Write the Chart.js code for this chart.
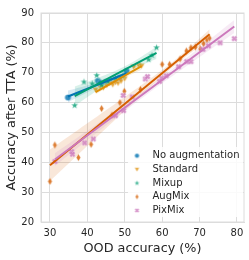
<!DOCTYPE html>
<html>
<head>
<meta charset="utf-8">
<script src="https://cdn.jsdelivr.net/npm/chart.js@4.4.1/dist/chart.umd.min.js"></script>
<style>
  html, body { margin: 0; padding: 0; background: #fff; }
</style>
</head>
<body>
<canvas id="chart" width="249" height="260"></canvas>
<script>
// values, [ood accuracy, accuracy after TTA]
const noAugmentation = [[34.8, 61.7], [42.8, 67.3], [43.6, 66.6], [44.8, 66.9], [46.2, 67.2], [47.5, 67.6], [48.6, 68.3], [50.5, 70.6]];
const standard = [[42.2, 64.3], [43.4, 65.2], [44.3, 65.0], [45.2, 65.8], [46.0, 66.4], [46.8, 66.0], [47.5, 66.8], [48.2, 66.5], [49.0, 67.2], [50.0, 68.0], [52.4, 72.0], [53.7, 72.6], [54.5, 72.3]];
const mixup = [[36.6, 59.0], [39.1, 66.9], [41.3, 66.3], [42.5, 69.1], [43.8, 65.8], [45.5, 67.0], [47.5, 68.2], [49.5, 69.0], [56.4, 74.4], [57.3, 75.8], [58.5, 78.4]];
const augMix = [[30.0, 33.6], [31.3, 45.8], [37.6, 41.6], [41.0, 46.0], [43.8, 58.0], [46.6, 55.8], [48.7, 60.0], [49.9, 63.8], [54.2, 64.4], [60.0, 72.8], [62.0, 72.8], [64.8, 74.6], [66.5, 77.3], [67.7, 78.4], [68.9, 78.6], [70.2, 78.0], [71.1, 79.7], [72.0, 81.0], [72.7, 81.6]];
const pixMix = [[31.3, 40.3], [35.8, 43.6], [36.0, 42.7], [39.3, 46.5], [41.6, 47.8], [47.5, 55.6], [49.7, 57.3], [49.6, 62.4], [52.0, 61.9], [55.5, 67.9], [56.1, 68.7], [59.3, 67.1], [59.9, 68.2], [61.1, 69.0], [64.4, 72.0], [66.6, 73.7], [67.7, 73.7], [70.9, 77.8], [72.4, 79.0], [75.5, 80.0], [79.3, 81.4]];

const seriesNames = ["No augmentation", "Standard", "Mixup", "AugMix", "PixMix"];
const seriesData = [noAugmentation, standard, mixup, augMix, pixMix];
const seriesColors = ["#0173b2", "#de8f05", "#029e73", "#d55e00", "#cc78bc"];
const seriesMarkers = ["circle", "triangleDown", "star", "thinDiamond", "x"];

const xTicks = [30, 40, 50, 60, 70, 80];
const yTicks = [20, 30, 40, 50, 60, 70, 80, 90];

const FONT = "'DejaVu Sans', sans-serif";
const TEXT = "#262626";
const GRID = "#dcdcdc";

function rgba(hex, a) {
  const n = parseInt(hex.slice(1), 16);
  return `rgba(${n >> 16},${(n >> 8) & 255},${n & 255},${a})`;
}

// little canvases used as point styles
function makeMarker(shape, color, r) {
  const size = Math.ceil(r * 2 + 4);
  const c = document.createElement("canvas");
  c.width = size; c.height = size;
  const ctx = c.getContext("2d");
  ctx.translate(size / 2, size / 2);
  ctx.beginPath();
  if (shape === "circle") {
    ctx.arc(0, 0, r, 0, Math.PI * 2);
  } else if (shape === "triangleDown") {
    ctx.moveTo(0, r);
    ctx.lineTo(-r, -r * 0.75);
    ctx.lineTo(r, -r * 0.75);
    ctx.closePath();
  } else if (shape === "star") {
    for (let i = 0; i < 10; i++) {
      const rr = i % 2 ? r * 0.5 : r * 1.2;
      const a = -Math.PI / 2 + i * Math.PI / 5;
      ctx.lineTo(Math.cos(a) * rr, Math.sin(a) * rr);
    }
    ctx.closePath();
  } else if (shape === "thinDiamond") {
    ctx.moveTo(0, -r * 1.2);
    ctx.lineTo(r * 0.7, 0);
    ctx.lineTo(0, r * 1.2);
    ctx.lineTo(-r * 0.7, 0);
    ctx.closePath();
  } else {
    const w = r * 0.4, e = r;
    const pts = [[-w, -e], [w, -e], [w, -w], [e, -w], [e, w], [w, w], [w, e], [-w, e], [-w, w], [-e, w], [-e, -w], [-w, -w]];
    const k = Math.SQRT1_2;
    pts.forEach(([x, y]) => ctx.lineTo((x - y) * k, (x + y) * k));
    ctx.closePath();
  }
  ctx.globalAlpha = 0.8;
  ctx.fillStyle = color;
  ctx.fill();
  ctx.lineWidth = 0.4;
  ctx.strokeStyle = "#fff";
  ctx.stroke();
  return c;
}

function fitLine(points) {
  const n = points.length;
  const mx = points.reduce((s, p) => s + p[0], 0) / n;
  const my = points.reduce((s, p) => s + p[1], 0) / n;
  let sxx = 0, sxy = 0;
  points.forEach(([x, y]) => { sxx += (x - mx) ** 2; sxy += (x - mx) * (y - my); });
  const slope = sxy / sxx;
  return {slope, icpt: my - slope * mx};
}

// least squares line, band from jackknife spread of the fit (stands in for seaborn's bootstrap)
function regression(points) {
  const n = points.length;
  const full = fitLine(points);
  const loo = points.map((_, i) => fitLine(points.filter((__, j) => j !== i)));
  const xs = points.map(p => p[0]);
  const lo = Math.min(...xs), hi = Math.max(...xs);
  const upper = [], lower = [];
  const steps = 40;
  for (let i = 0; i <= steps; i++) {
    const x = lo + (hi - lo) * i / steps;
    const yh = full.icpt + full.slope * x;
    const preds = loo.map(f => f.icpt + f.slope * x);
    const mean = preds.reduce((s, v) => s + v, 0) / n;
    const se = Math.sqrt((n - 1) / n * preds.reduce((s, v) => s + (v - mean) ** 2, 0));
    upper.push({x, y: yh + 1.96 * se});
    lower.push({x, y: yh - 1.96 * se});
  }
  const line = [{x: lo, y: full.icpt + full.slope * lo}, {x: hi, y: full.icpt + full.slope * hi}];
  return {line, upper, lower};
}

const datasets = [];
const lineSets = [];
seriesData.forEach((pts, i) => {
  const color = seriesColors[i];
  const fit = regression(pts);
  datasets.push({
    type: "scatter",
    label: seriesNames[i],
    data: pts.map(([x, y]) => ({x, y})),
    pointStyle: makeMarker(seriesMarkers[i], color, 3.1),
    pointRadius: 3,
    order: 1000 - 2 * i,
  });
  datasets.push({
    type: "line",
    label: "band",
    data: fit.upper,
    borderWidth: 0,
    pointRadius: 0,
    backgroundColor: rgba(color, 0.15),
    fill: "+1",
    order: 999 - 2 * i,
  });
  datasets.push({
    type: "line",
    label: "band",
    data: fit.lower,
    borderWidth: 0,
    pointRadius: 0,
    fill: false,
    order: 999 - 2 * i,
  });
  lineSets.push({
    type: "line",
    label: "fit",
    data: fit.line,
    borderColor: color,
    borderWidth: 2,
    pointRadius: 0,
    fill: false,
    order: 100 - i,
  });
});
datasets.push(...lineSets);

const frame = {
  id: "frame",
  beforeDatasetsDraw(chart) {
    const {ctx, chartArea: a} = chart;
    ctx.save();
    ctx.strokeStyle = GRID;
    ctx.lineWidth = 1;
    ctx.strokeRect(a.left, a.top, a.right - a.left, a.bottom - a.top);
    ctx.restore();
  },
};

const legendBox = {
  id: "legendBox",
  afterDraw(chart) {
    const {ctx} = chart;
    ctx.save();
    ctx.fillStyle = "rgba(255,255,255,0.85)";
    ctx.fillRect(128, 147, 115, 70);
    ctx.font = `10px ${FONT}`;
    ctx.fillStyle = TEXT;
    ctx.textBaseline = "middle";
    seriesNames.forEach((name, i) => {
      const y = 155.7 + i * 13.7;
      const m = makeMarker(seriesMarkers[i], seriesColors[i], 2.3);
      ctx.drawImage(m, 137 - m.width / 2, y - m.height / 2);
      ctx.fillText(name, 152.5, y);
    });
    ctx.restore();
  },
};

new Chart(document.getElementById("chart"), {
  data: {datasets},
  options: {
    responsive: false,
    animation: false,
    devicePixelRatio: 1,
    layout: {padding: {top: 8, right: 5, left: 0, bottom: 0}},
    plugins: {legend: {display: false}, tooltip: {enabled: false}},
    scales: {
      x: {
        type: "linear",
        min: 27.6,
        max: 81.9,
        afterBuildTicks: s => { s.ticks = xTicks.map(v => ({value: v})); },
        afterFit: s => { s.height = 38; },
        grid: {color: GRID, drawTicks: false},
        border: {color: GRID},
        ticks: {color: TEXT, font: {family: FONT, size: 10}, padding: 5},
        title: {display: true, text: "OOD accuracy (%)", color: TEXT, font: {family: FONT, size: 12.8}, padding: {top: 4, bottom: 4}},
      },
      y: {
        type: "linear",
        min: 20,
        max: 90,
        afterBuildTicks: s => { s.ticks = yTicks.map(v => ({value: v})); },
        afterFit: s => { s.width = 41; },
        grid: {color: GRID, drawTicks: false},
        border: {color: GRID},
        ticks: {color: TEXT, font: {family: FONT, size: 10}, padding: 7},
        title: {display: true, text: "Accuracy after TTA (%)", color: TEXT, font: {family: FONT, size: 12.8}, padding: {top: 4, bottom: 4}},
      },
    },
  },
  plugins: [frame, legendBox],
});
</script>
</body>
</html>
